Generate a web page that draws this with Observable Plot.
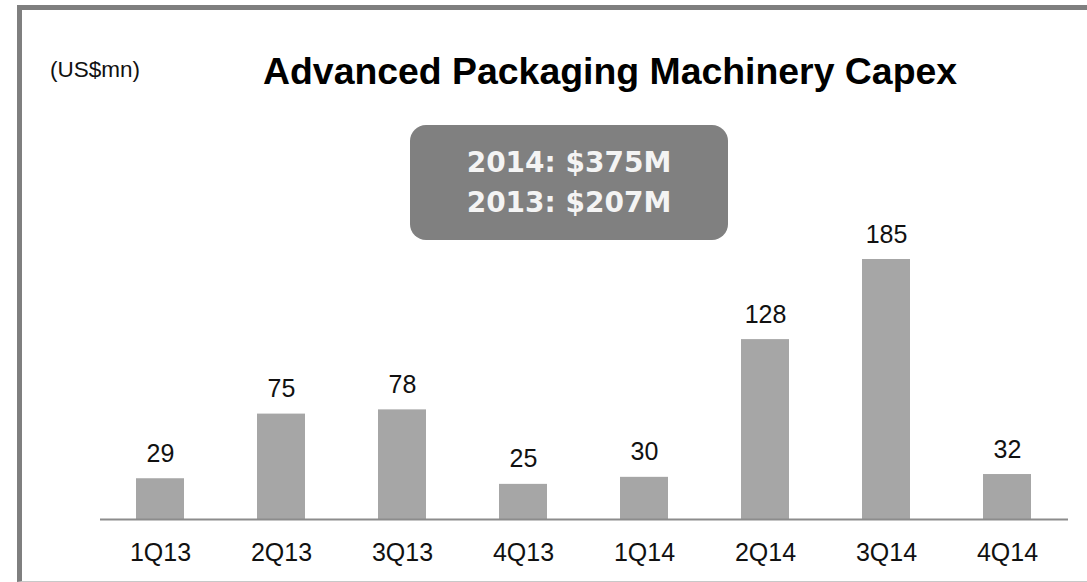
<!DOCTYPE html>
<html>
<head>
<meta charset="utf-8">
<script src="https://cdn.jsdelivr.net/npm/d3@7"></script>
<script src="https://cdn.jsdelivr.net/npm/@observablehq/plot@0.6"></script>
<style>
  html, body { margin: 0; padding: 0; background: #fff; }
  #wrap { position: relative; width: 1087px; height: 582px; overflow: hidden; font-family: "Liberation Sans", Arial, sans-serif; }
  #frame { position: absolute; left: 17px; top: 5px; width: 1100px; height: 571px; border-top: 5px solid #7f7f7f; border-left: 5px solid #7f7f7f; border-bottom: 1px solid #c8c8c8; }
  #unit { position: absolute; left: 50px; top: 57px; font-size: 22.5px; color: #111; }
  #title { position: absolute; left: 263px; top: 50px; font-size: 37.4px; font-weight: bold; color: #000; white-space: nowrap; }
  #box { position: absolute; left: 410px; top: 125px; width: 318px; height: 115px; background: #808080; border-radius: 16px; color: #f4f4f4; font-family: "DejaVu Sans", sans-serif; font-weight: bold; font-size: 28px; text-align: center; display: flex; flex-direction: column; justify-content: center; line-height: 40px; }
  #chart { position: absolute; left: 0; top: 0; }
</style>
</head>
<body>
<div id="wrap">
  <div id="frame"></div>
  <div id="unit">(US$mn)</div>
  <div id="title">Advanced Packaging Machinery Capex</div>
  <div id="box"></div>
  <div id="chart"></div>
</div>
<script>
const quarters = ["1Q13", "2Q13", "3Q13", "4Q13", "1Q14", "2Q14", "3Q14", "4Q14"];
const capex = [29, 75, 78, 25, 30, 128, 185, 32];
const summaryYears = ["2014", "2013"];
const summaryTotals = [375, 207];

const data = quarters.map((q, i) => ({quarter: q, value: capex[i]}));

document.getElementById("box").innerHTML = summaryYears
  .map((y, i) => `<div>${y}: $${summaryTotals[i]}M</div>`).join("");

const chart = Plot.plot({
  width: 1087,
  height: 582,
  marginLeft: 100,
  marginRight: 19,
  marginTop: 259,
  marginBottom: 63,
  style: {background: "transparent", fontFamily: "Liberation Sans, Arial, sans-serif", color: "#111", overflow: "visible"},
  x: {domain: quarters, paddingInner: 0.6, paddingOuter: 0.3, label: null},
  y: {domain: [0, 185], axis: null},
  marks: [
    Plot.barY(data, {x: "quarter", y: "value", fill: "#a6a6a6"}),
    Plot.ruleY([0], {stroke: "#8c8c8c", strokeWidth: 2}),
    Plot.text(data, {x: "quarter", y: "value", text: d => String(d.value), lineAnchor: "bottom", dy: -17, fontSize: 25, fill: "#111"}),
    Plot.axisX({tickSize: 0, tickPadding: 24, fontSize: 25, label: null, fill: "#111"})
  ]
});
document.getElementById("chart").appendChild(chart);
</script>
</body>
</html>
